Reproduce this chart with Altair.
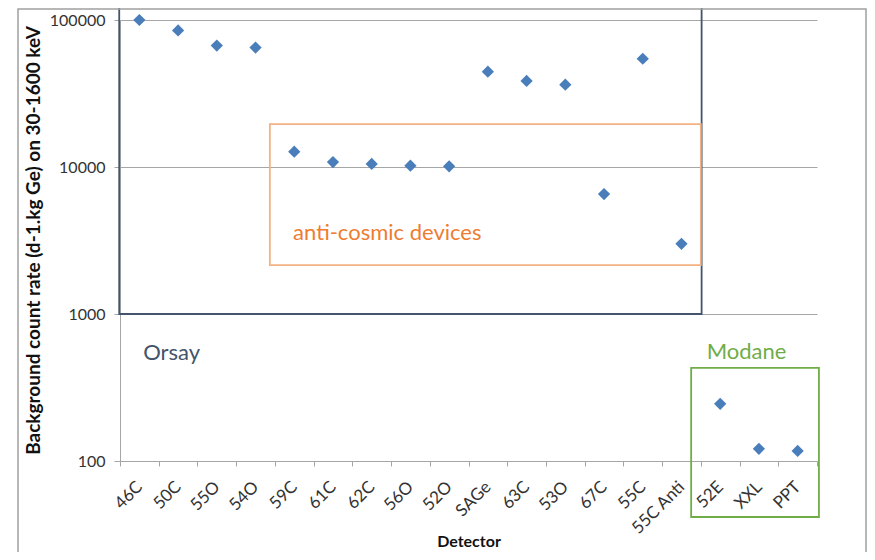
import altair as alt
import pandas as pd

# ---- data ----
detectors = ["46C", "50C", "55O", "54O", "59C", "61C", "62C", "56O", "52O",
             "SAGe", "63C", "53O", "67C", "55C", "55C Anti", "52E", "XXL", "PPT"]
rates = [100000, 85000, 67000, 65000, 12700, 10800, 10500, 10200, 10100,
         44500, 38500, 36300, 6550, 54500, 3000, 245, 121, 117]

# annotation boxes (x in band units, 0..18; y in data units)
box_names = ["Orsay", "anti-cosmic", "Modane"]
box_x0 = [-0.02, 3.87, 14.75]
box_x1 = [15.02, 15.0, 18.05]
box_y0 = [1000, 2150, 41.6]
box_y1 = [126500, 19600, 430]
box_colors = ["#44546A", "#F4B183", "#70AD47"]

label_texts = ["Orsay", "anti-cosmic devices", "Modane"]
label_x = [0.6, 4.47, 15.15]
label_y = [545, 3557, 550]
label_colors = ["#44546A", "#ED7D31", "#70AD47"]

FONT = "Lato"

pts = pd.DataFrame({"Detector": detectors, "rate": rates})
boxes = pd.DataFrame({"name": box_names, "x0": box_x0, "x1": box_x1,
                      "y0": box_y0, "y1": box_y1, "color": box_colors})
labels = pd.DataFrame({"text": label_texts, "x": label_x, "y": label_y,
                       "color": label_colors})

yscale = alt.Scale(type="log", domain=[100, 100000], nice=False)
xq = alt.Scale(domain=[0, 18], nice=False, zero=False, padding=0)
yaxis = alt.Axis(title="Background count rate (d-1.kg Ge) on 30-1600 keV",
                 values=[100, 1000, 10000, 100000], format="d",
                 labelFontSize=16, labelColor="#333333", labelFont=FONT,
                 labelPadding=9, tickSize=6, tickColor="#A6A6A6",
                 domainColor="#A6A6A6", gridColor="#A6A6A6",
                 titleFontSize=19, titleFontWeight="bold", titleFont=FONT,
                 titleColor="#111111", titleX=-87, titleY=220,
                 titleAngle=270, titleAlign="center", titleBaseline="middle")

points = alt.Chart(pts).mark_point(
    shape="diamond", filled=True, size=150, color="#4A7EBB", opacity=1
).encode(
    x=alt.X("Detector:N", sort=detectors,
            scale=alt.Scale(paddingInner=0, paddingOuter=0),
            axis=alt.Axis(title="Detector", labelAngle=315, labelAlign="right",
                          labelBaseline="middle", labelPadding=18,
                          labelFontSize=17, labelColor="#333333", labelFont=FONT,
                          tickBand="extent", tickSize=5, tickColor="#A6A6A6",
                          domainColor="#A6A6A6", grid=False,
                          titleFontSize=16, titleFontWeight="bold", titleFont=FONT,
                          titleColor="#111111", titleY=80, titleBaseline="middle")),
    y=alt.Y("rate:Q", scale=yscale, axis=yaxis),
)

rects = alt.Chart(boxes).mark_rect(filled=False, strokeWidth=1.8, clip=False).encode(
    x=alt.X("x0:Q", scale=xq, axis=None),
    x2="x1:Q",
    y=alt.Y("y0:Q", scale=yscale, axis=yaxis),
    y2="y1:Q",
    stroke=alt.Color("color:N", scale=None),
)

texts = alt.Chart(labels).mark_text(fontSize=22, font=FONT, baseline="middle",
                                    align="left").encode(
    x=alt.X("x:Q", scale=xq, axis=None),
    y=alt.Y("y:Q", scale=yscale, axis=yaxis),
    text="text:N",
    color=alt.Color("color:N", scale=None),
)

frame = alt.Chart(pd.DataFrame({"a": [0]})).mark_rect(
    filled=False, stroke="#A0A0A0", strokeWidth=1.5, clip=False
).encode(x=alt.value(-102), x2=alt.value(746), y=alt.value(-11), y2=alt.value(560))

chart = alt.layer(points, rects, texts, frame).resolve_scale(x="independent").properties(
    width=697, height=441,
    background="white",
    autosize=alt.AutoSizeParams(type="none"),
    padding={"left": 112, "top": 12, "right": 50, "bottom": 91},
).configure_view(stroke=None)

chart.save("out.html", embed_options={"renderer": "svg", "actions": False})
